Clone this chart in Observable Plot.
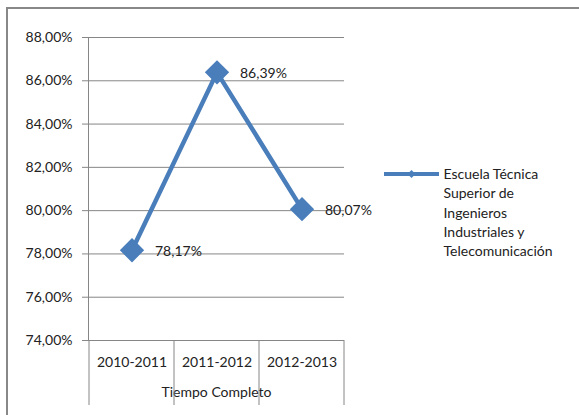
<!DOCTYPE html>
<html>
<head>
<meta charset="utf-8">
<script src="https://cdn.jsdelivr.net/npm/d3@7"></script>
<script src="https://cdn.jsdelivr.net/npm/@observablehq/plot@0.6"></script>
<style>
  html, body { margin: 0; padding: 0; background: white; }
  #chart { width: 579px; height: 415px; }
</style>
</head>
<body>
<div id="chart"></div>
<script>
const years = ["2010-2011", "2011-2012", "2012-2013"];
const values = [78.17, 86.39, 80.07];
const yTicks = [74, 76, 78, 80, 82, 84, 86, 88];
const groupLabel = "Tiempo Completo";
const seriesName = "Escuela Técnica\nSuperior de\nIngenieros\nIndustriales y\nTelecomunicación";

const blue = "#4A7EBB";
const grid = "#868686";
const fmt = v => v.toFixed(2).replace(".", ",") + "%";
const data = years.map((y, i) => ({year: y, value: values[i]}));

const plot = Plot.plot({
  width: 579,
  height: 415,
  marginLeft: 88,
  marginTop: 37,
  marginRight: 235,
  marginBottom: 75,
  style: {fontFamily: "Lato", fontSize: "14px", color: "#222", background: "white"},
  x: {type: "band", domain: years, padding: 0, label: null},
  y: {domain: [74, 88], label: null},
  marks: [
    Plot.gridY(yTicks, {stroke: grid, strokeOpacity: 1}),
    Plot.axisY(yTicks, {tickFormat: fmt, tickSize: 6, tickPadding: 10, stroke: grid, label: null}),
    Plot.axisX({tickSize: 0, tickPadding: 17, label: null}),
    Plot.frame({anchor: "left", stroke: grid}),
    Plot.line(data, {x: "year", y: "value", stroke: blue, strokeWidth: 4.5}),
    Plot.dot(data, {x: "year", y: "value", symbol: "diamond2", r: 10, fill: blue, stroke: blue}),
    Plot.text(data, {x: "year", y: "value", text: d => fmt(d.value), dx: 23, dy: 1, textAnchor: "start", fill: "#222"}),
    Plot.text([groupLabel], {frameAnchor: "bottom", dy: 56, fill: "#222"}),
    Plot.text([seriesName], {frameAnchor: "top-right", dx: 99, dy: 128, textAnchor: "start", lineAnchor: "top", lineHeight: 1.375, fill: "#222"})
  ]
});

document.getElementById("chart").appendChild(plot);

// category dividers below the axis, using the plot's own scales
const xs = plot.scale("x");
const ys = plot.scale("y");
const svg = d3.select(plot);
const bw = xs.bandwidth;
const edges = years.map(y => xs.apply(y)).concat([xs.apply(years[years.length - 1]) + bw]);
const yBase = ys.apply(74);
svg.append("g").selectAll("line").data(edges).join("line")
  .attr("x1", d => d).attr("x2", d => d)
  .attr("y1", yBase).attr("y2", yBase + 65)
  .attr("stroke", grid).attr("stroke-width", 1);

// legend sample
const lx = 384, ly = 174;
svg.append("line").attr("x1", lx).attr("x2", lx + 55).attr("y1", ly).attr("y2", ly)
  .attr("stroke", blue).attr("stroke-width", 4);
svg.append("path").attr("d", `M${lx + 27.5},${ly - 4}l4,4l-4,4l-4,-4z`).attr("fill", blue);

// outer chart border (left and top)
svg.append("line").attr("x1", 7).attr("x2", 7).attr("y1", 7).attr("y2", 415).attr("stroke", "#888").attr("stroke-width", 2);
svg.append("line").attr("x1", 6).attr("x2", 579).attr("y1", 8).attr("y2", 8).attr("stroke", "#888").attr("stroke-width", 2);
</script>
</body>
</html>
